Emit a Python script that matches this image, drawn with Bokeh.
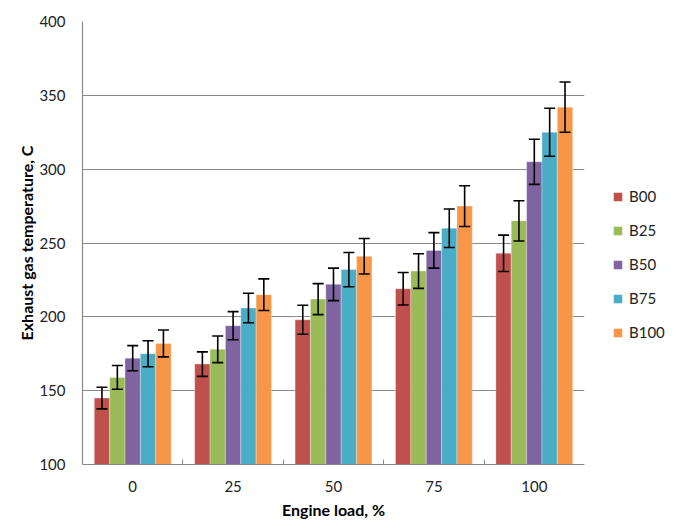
from bokeh.plotting import figure
from bokeh.models import (ColumnDataSource, Range1d, FixedTicker, Whisker, TeeHead,
                          Legend, LegendItem)
from bokeh.transform import dodge
from bokeh.embed import file_html
from bokeh.resources import INLINE

loads = ["0", "25", "50", "75", "100"]
series = ["B00", "B25", "B50", "B75", "B100"]
colors = ["#C0504D", "#9BBB59", "#8064A2", "#4BACC6", "#F79646"]

b00 = [145, 168, 198, 219, 243]
b25 = [159, 178, 212, 231, 265]
b50 = [172, 194, 222, 245, 305]
b75 = [175, 206, 232, 260, 325]
b100 = [182, 215, 241, 275, 342]

e00 = [7.3, 8.3, 9.8, 11.0, 12.3]
e25 = [8.0, 9.0, 10.5, 11.7, 13.6]
e50 = [8.5, 9.5, 11.0, 12.0, 15.3]
e75 = [8.8, 10.0, 11.6, 13.0, 16.3]
e100 = [9.1, 10.7, 12.0, 13.8, 17.0]

yticks = [100, 150, 200, 250, 300, 350, 400]

values = [b00, b25, b50, b75, b100]
errors = [e00, e25, e50, e75, e100]

FONT = "Lato"
GRID = "#8A8A8A"
TXT = "#222222"

p = figure(width=677, height=522, output_backend="svg", toolbar_location=None,
           x_range=Range1d(0, len(loads)), y_range=Range1d(100, 400),
           frame_width=502, frame_height=443,
           min_border_left=82, min_border_top=21, min_border_right=93, min_border_bottom=58)
p.outline_line_color = None
p.background_fill_color = "white"
p.border_fill_color = "white"

xc = [i + 0.5 for i in range(len(loads))]
bw = 0.153
offsets = [-2 * bw, -bw, 0.0, bw, 2 * bw]

items = []
for s, col, vals, errs, off in zip(series, colors, values, errors, offsets):
    src = ColumnDataSource(dict(
        xc=xc, top=vals,
        up=[v + e for v, e in zip(vals, errs)],
        lo=[v - e for v, e in zip(vals, errs)],
    ))
    r = p.vbar(x=dodge("xc", off), top="top", bottom=100, width=bw, source=src,
               fill_color=col, line_color="white", line_alpha=0.5, line_width=0.6)
    items.append(LegendItem(label=s, renderers=[r]))
    w = Whisker(source=src, base=dodge("xc", off), upper="up", lower="lo",
                line_color="black", line_width=1.6, level="overlay",
                upper_head=TeeHead(size=11, line_color="black", line_width=1.6),
                lower_head=TeeHead(size=11, line_color="black", line_width=1.6))
    p.add_layout(w)

# axes
p.xaxis.ticker = FixedTicker(ticks=xc, minor_ticks=[1, 2, 3, 4])
p.xaxis.major_label_overrides = {x: l for x, l in zip(xc, loads)}
p.xaxis.major_tick_in = 0
p.xaxis.major_tick_out = 0
p.xaxis.minor_tick_in = 5
p.xaxis.minor_tick_out = 0
p.xaxis.minor_tick_line_color = GRID
p.xaxis.axis_line_color = GRID
p.xaxis.axis_line_width = 1.2
p.xaxis.axis_label = "Engine load, %"
p.xaxis.major_label_standoff = 16
p.xaxis.axis_label_standoff = 5

p.yaxis.ticker = FixedTicker(ticks=yticks)
p.yaxis.major_tick_in = 0
p.yaxis.major_tick_out = 0
p.yaxis.minor_tick_line_color = None
p.yaxis.axis_line_color = GRID
p.yaxis.axis_line_width = 1.2
p.yaxis.axis_label = "Exhaust gas temperature, C"
p.yaxis.major_label_standoff = 17
p.yaxis.axis_label_standoff = 0

for ax in (p.xaxis[0], p.yaxis[0]):
    ax.major_label_text_font = FONT
    ax.major_label_text_font_size = "15px"
    ax.major_label_text_color = TXT
    ax.axis_label_text_font = FONT
    ax.axis_label_text_font_size = "16px"
    ax.axis_label_text_font_style = "bold"
    ax.axis_label_text_color = "black"

p.xgrid.grid_line_color = None
p.ygrid.ticker = FixedTicker(ticks=yticks[1:])
p.ygrid.grid_line_color = GRID
p.ygrid.grid_line_width = 1.2

legend = Legend(items=items, location=(28, 122), orientation="vertical",
                padding=0, margin=0, border_line_alpha=0, background_fill_alpha=0,
                glyph_width=11, glyph_height=11, label_height=20, spacing=14,
                label_standoff=6, label_text_font=FONT, label_text_font_size="15px",
                label_text_color=TXT)
p.add_layout(legend, "right")

open("out.html", "w").write(file_html(p, INLINE))
